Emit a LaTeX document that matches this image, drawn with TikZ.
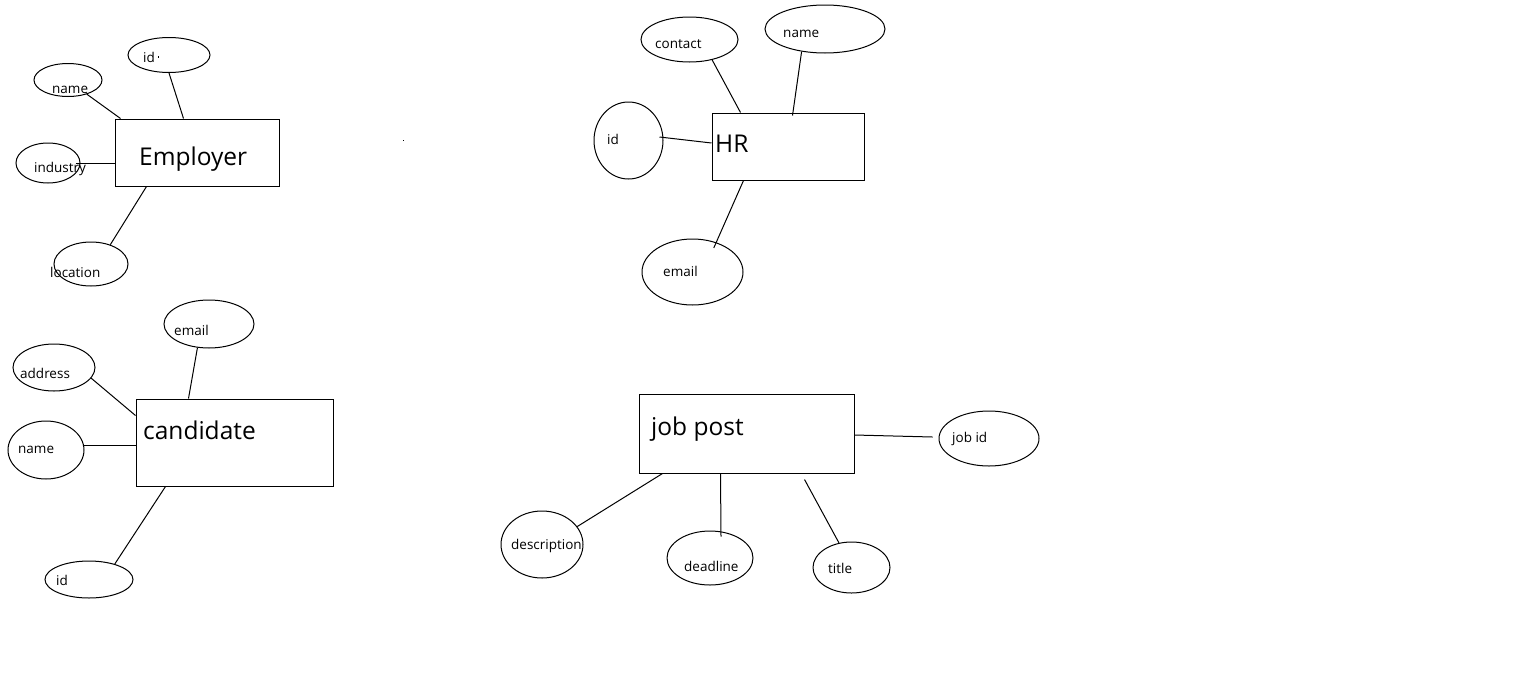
\documentclass[tikz,border=0pt]{standalone}
\usepackage{fontspec}
\setmainfont{Open Sans}
\usetikzlibrary{shapes.geometric}
\newcommand{\attrsize}{\fontsize{13.5}{16}\selectfont}
\newcommand{\entsize}{\fontsize{24.5}{28}\selectfont}
\tikzset{
  entity/.style={draw,rectangle,line width=1pt,inner sep=0pt},
  attr/.style={draw,ellipse,line width=1pt,inner sep=0pt},
  attrlbl/.style={anchor=base west,inner sep=0pt,font=\attrsize},
  entlbl/.style={anchor=base west,inner sep=0pt,font=\entsize},
  link/.style={line width=1pt}
}

\begin{document}
\begin{tikzpicture}[x=1pt,y=-1pt]
  \fill[white] (0,0) rectangle (1530,672);
  \useasboundingbox (0,0) rectangle (1530,672);

  % Employer
  \node[entity,minimum width=164pt,minimum height=67pt] (emp) at (197,152.5) {};
  \node[entlbl] (emptxt) at (139,165) {Employer};
  \node[attr,minimum width=82pt,minimum height=35pt] (eid) at (169,55) {};
  \node[attrlbl] (eidtxt) at (143,62) {id};
  \node[attr,minimum width=68pt,minimum height=33pt] (ename) at (68,80) {};
  \node[attrlbl] (enametxt) at (52,93) {name};
  \node[attr,minimum width=64pt,minimum height=40pt] (eind) at (48,163) {};
  \node[attrlbl] (eindtxt) at (34,172) {industry};
  \node[attr,minimum width=74pt,minimum height=44pt] (eloc) at (91,264) {};
  \node[attrlbl] (eloctxt) at (50,277) {location};
  \draw[link] (ename.-37) -- ([xshift=6pt]emp.north west);
  \draw[link] (eid.south) -- ([xshift=69pt]emp.north west);
  \draw[link] ([xshift=-5pt]eind.east) -- ([yshift=-10.5pt]emp.west);
  \draw[link] (eloc.45) -- ([xshift=32pt]emp.south west);
  \fill (157.5,56) rectangle (159,57.5);
  \fill (402.5,139.5) rectangle (404,141);

  % HR
  \node[entity,minimum width=152pt,minimum height=67pt] (hr) at (788,146.5) {};
  \node[entlbl] (hrtxt) at (715,152) {HR};
  \node[attr,minimum width=97pt,minimum height=45pt] (hcont) at (689.5,39.5) {};
  \node[attrlbl] (hconttxt) at (655,48) {contact};
  \node[attr,minimum width=120pt,minimum height=48pt] (hname) at (825,29) {};
  \node[attrlbl] (hnametxt) at (783,37) {name};
  \node[attr,minimum width=69pt,minimum height=77pt] (hid) at (628.5,140.5) {};
  \node[attrlbl] (hidtxt) at (607,144) {id};
  \node[attr,minimum width=101pt,minimum height=66pt] (hmail) at (692.5,272) {};
  \node[attrlbl] (hmailtxt) at (663,276) {email};
  \draw[link] (hcont.-42) -- ([xshift=29pt]hr.north west);
  \draw[link] (hname.-136) -- ([xshift=81pt,yshift=-3pt]hr.north west);
  \draw[link] ([xshift=-4pt,yshift=3.5pt]hid.east) -- ([yshift=3.5pt]hr.west);
  \draw[link] ([xshift=-4pt,yshift=-5pt]hmail.49.5) -- ([xshift=32pt]hr.south west);

  % candidate
  \node[entity,minimum width=197pt,minimum height=87pt] (cand) at (234.5,442.5) {};
  \node[entlbl] (candtxt) at (143,439) {candidate};
  \node[attr,minimum width=90pt,minimum height=48pt] (cmail) at (209,324) {};
  \node[attrlbl] (cmailtxt) at (174,335) {email};
  \node[attr,minimum width=82pt,minimum height=47pt] (caddr) at (54,367.5) {};
  \node[attrlbl] (caddrtxt) at (20,378) {address};
  \node[attr,minimum width=76pt,minimum height=58pt] (cname) at (46,450) {};
  \node[attrlbl] (cnametxt) at (18,453) {name};
  \node[attr,minimum width=88pt,minimum height=37pt] (cid) at (89,579.5) {};
  \node[attrlbl] (cidtxt) at (56,585) {id};
  \draw[link] (cmail.-116) -- ([xshift=53pt]cand.north west);
  \draw[link] (caddr.-16) -- ([yshift=-17pt]cand.north west);
  \draw[link] ([xshift=-2pt,yshift=5pt]cname.east) -- ([yshift=-2.5pt]cand.west);
  \draw[link] (cid.31.5) -- ([xshift=30pt]cand.south west);

  % job post
  \node[entity,minimum width=215pt,minimum height=79pt] (job) at (746.5,433.5) {};
  \node[entlbl] (jobtxt) at (651,435) {job post};
  \node[attr,minimum width=100pt,minimum height=55pt] (jid) at (989,438.5) {};
  \node[attrlbl] (jidtxt) at (952,442) {job id};
  \node[attr,minimum width=82pt,minimum height=67pt] (jdesc) at (542,544.5) {};
  \node[attrlbl] (jdesctxt) at (511,549) {description};
  \node[attr,minimum width=86pt,minimum height=54pt] (jdead) at (710,558) {};
  \node[attrlbl] (jdeadtxt) at (684,571) {deadline};
  \node[attr,minimum width=77pt,minimum height=51pt] (jtitle) at (851.5,567.5) {};
  \node[attrlbl] (jtitletxt) at (828,573) {title};
  \draw[link] ([yshift=-1.5pt]job.east) -- ([xshift=-6pt,yshift=1.5pt]jid.west);
  \draw[link] (jdesc.27) -- ([xshift=24pt]job.south west);
  \draw[link] ([xshift=11pt,yshift=-6pt]jdead.north) -- ([xshift=82pt]job.south west);
  \draw[link] (jtitle.117.9) -- ([xshift=166pt,yshift=-6pt]job.south west);
\end{tikzpicture}
\end{document}
